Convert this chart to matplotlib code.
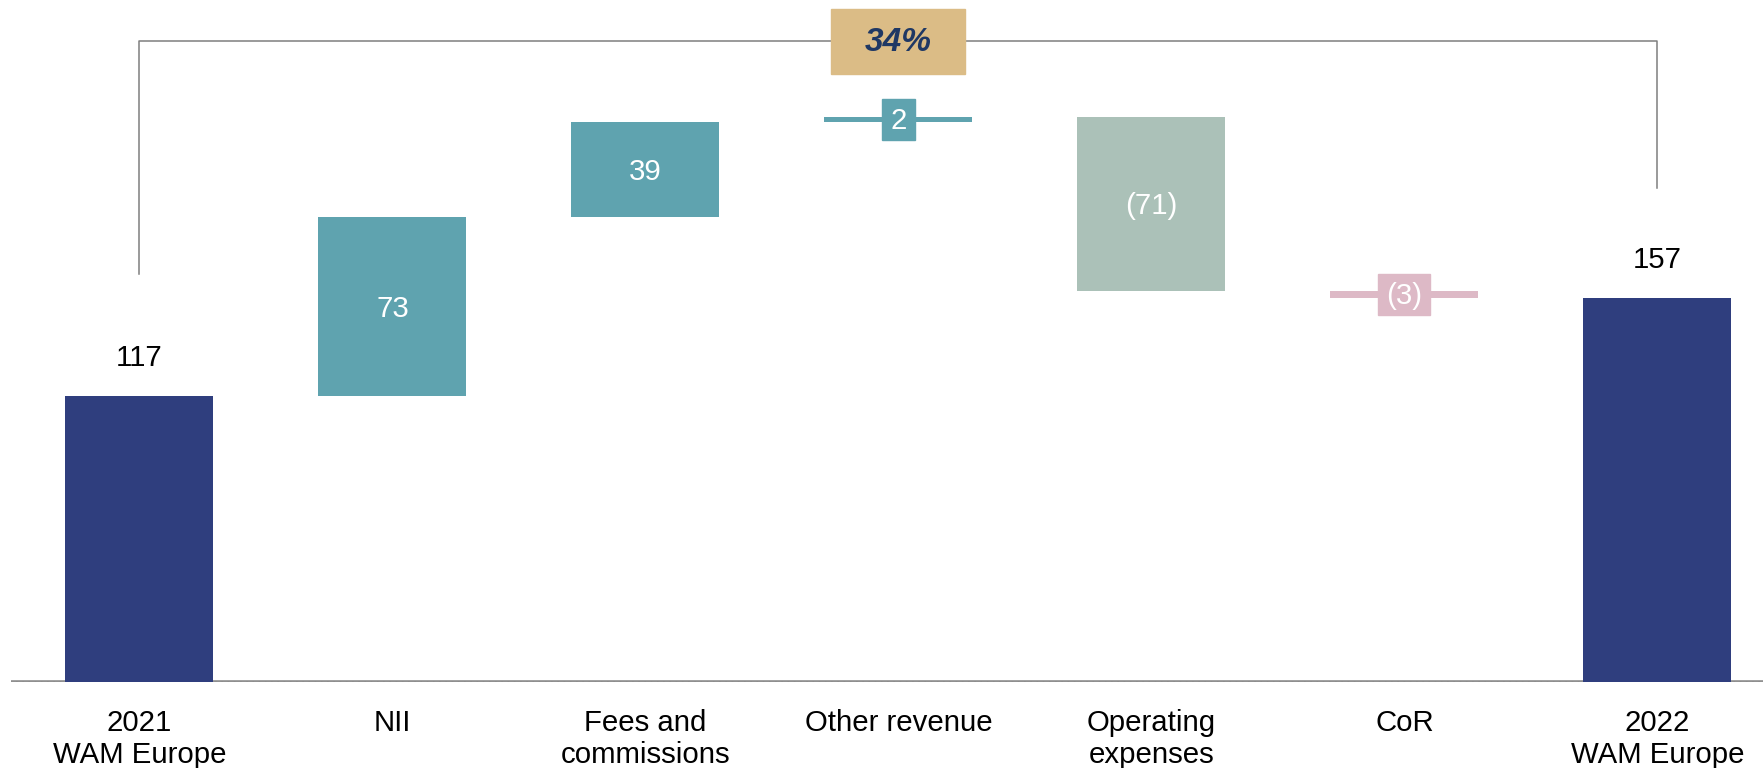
import matplotlib
matplotlib.use("Agg")
import matplotlib.pyplot as plt
from matplotlib.patches import Rectangle

plt.rcParams['font.family'] = ['Liberation Sans', 'DejaVu Sans']

categories = ["2021\nWAM Europe", "NII", "Fees and\ncommissions", "Other revenue",
              "Operating\nexpenses", "CoR", "2022\nWAM Europe"]
values = [117, 73, 39, 2, -71, -3, 157]
is_total = [True, False, False, False, False, False, True]
colors = ["#2F3E7E", "#5FA3AF", "#5FA3AF", "#5FA3AF", "#ABC1B8", "#DDB9C6", "#2F3E7E"]

NAVY_TXT = "#1F3864"
GOLD = "#DBBC86"
GRAY = "#7F7F7F"

fig = plt.figure(figsize=(17.63, 7.68), dpi=100)
ax = fig.add_axes([11 / 1763, 86 / 768, 1 - 11 / 1763, 682 / 768])
ax.set_xlim(-0.5075, 6.4174)
ax.set_ylim(0, 278.9)
ax.axis('off')

bw = 0.585
fs = 21.2
running = 0
for i, (v, tot, c) in enumerate(zip(values, is_total, colors)):
    if tot:
        bottom, h = 0, v
        running = v
    else:
        bottom = running if v >= 0 else running + v
        h = abs(v)
        running += v
    ax.bar(i, h, bottom=bottom, width=bw, color=c, zorder=2)
    lab = f"{v}" if v >= 0 else f"({abs(v)})"
    if tot:
        ax.text(i, v + 15.5, lab, ha='center', va='center', fontsize=fs, color='black')
    elif h < 5:
        mid = bottom + h / 2
        bwid = 0.13 if v >= 0 else 0.205
        ax.add_patch(Rectangle((i - bwid / 2, mid - 8.5), bwid, 17, color=c, zorder=3))
        ax.text(i, mid - 0.6, lab, ha='center', va='center', fontsize=fs, color='white', zorder=4)
    else:
        ax.text(i, bottom + h / 2 - 0.8, lab, ha='center', va='center', fontsize=fs,
                color='white', zorder=4)

# baseline (double dashed gray rule)
ax.axhline(0, color='#8C8C8C', lw=2.6, zorder=1)
ax.axhline(0, color='#E6E6E6', lw=0.8, dashes=(4, 1.6), zorder=1.5)

# category labels
for i, cat in enumerate(categories):
    ax.text(i, -0.040, cat, transform=ax.get_xaxis_transform(), ha='center', va='top',
            fontsize=fs, color='black', linespacing=1.15)

# growth bracket
start, end = values[0], values[-1]
level = 262
ax.plot([0, 0, 6, 6], [start + 50, level, level, end + 45], color=GRAY, lw=1.1, zorder=1)
growth = round((end / start - 1) * 100)
ax.add_patch(Rectangle((3 - 0.265, level - 13.3), 0.53, 26.6, color=GOLD, zorder=3))
ax.text(3, level - 0.5, f"{growth}%", ha='center', va='center', fontsize=24, fontweight='bold',
        fontstyle='italic', color=NAVY_TXT, zorder=4)

fig.savefig("out.png", dpi=100)
